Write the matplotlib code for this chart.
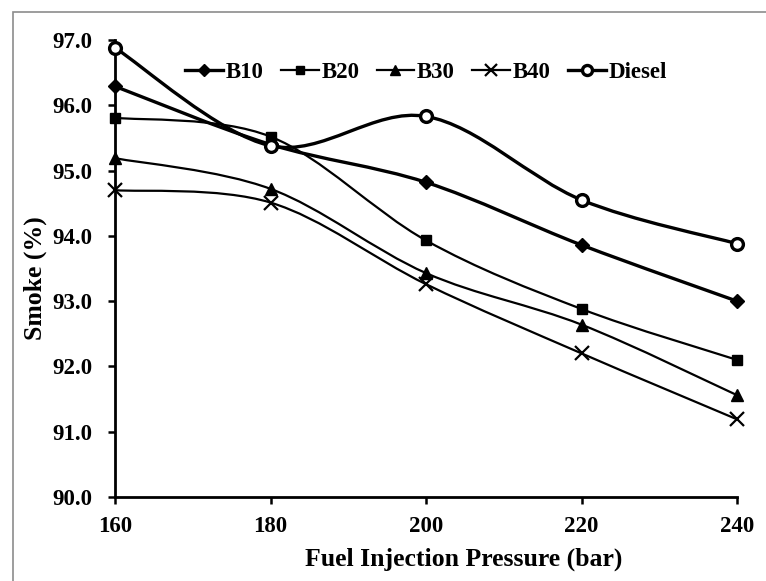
import matplotlib
matplotlib.use("Agg")
import matplotlib.pyplot as plt
from matplotlib.path import Path
from matplotlib.patches import PathPatch, Rectangle
from matplotlib.lines import Line2D

plt.rcParams["font.family"] = ["Liberation Serif", "DejaVu Serif"]
plt.rcParams["font.weight"] = "bold"

pressure = [160, 180, 200, 220, 240]
b10 = [96.29, 95.40, 94.82, 93.86, 93.00]
b20 = [95.81, 95.52, 93.93, 92.88, 92.10]
b30 = [95.19, 94.72, 93.43, 92.64, 91.56]
b40 = [94.70, 94.51, 93.26, 92.20, 91.19]
diesel = [96.88, 95.38, 95.83, 94.55, 93.88]

series = [
    ("B10", b10, "D", 2.4, 7.0),
    ("B20", b20, "s", 1.6, 7.5),
    ("B30", b30, "^", 1.6, 8.5),
    ("B40", b40, "x", 1.6, 9.5),
    ("Diesel", diesel, "o", 2.4, 8.5),
]


def smooth_path(xs, ys):
    # cubic bezier through the points, same style as a spreadsheet "smoothed line"
    pts = list(zip(xs, ys))
    n = len(pts)
    verts = [pts[0]]
    codes = [Path.MOVETO]
    for i in range(n - 1):
        p0 = pts[i - 1] if i > 0 else pts[i]
        p1 = pts[i]
        p2 = pts[i + 1]
        p3 = pts[i + 2] if i + 2 < n else pts[i + 1]
        c1 = (p1[0] + (p2[0] - p0[0]) / 6, p1[1] + (p2[1] - p0[1]) / 6)
        c2 = (p2[0] - (p3[0] - p1[0]) / 6, p2[1] - (p3[1] - p1[1]) / 6)
        verts += [c1, c2, p2]
        codes += [Path.CURVE4] * 3
    return Path(verts, codes)


fig = plt.figure(figsize=(7.66, 5.81), dpi=100)
ax = fig.add_axes([115 / 766, 1 - 497 / 581, 622 / 766, 457 / 581])

handles = []
for name, vals, mk, lw, ms in series:
    ax.add_patch(PathPatch(smooth_path(pressure, vals), facecolor="none",
                           edgecolor="black", lw=lw, zorder=2, clip_on=False))
    if mk == "o":
        kw = dict(markerfacecolor="white", markeredgecolor="black", markeredgewidth=2.4)
    elif mk == "x":
        kw = dict(markeredgecolor="black", markeredgewidth=1.6)
    else:
        kw = dict(markerfacecolor="black", markeredgecolor="black")
    ax.plot(pressure, vals, linestyle="none", marker=mk, markersize=ms,
            zorder=3, clip_on=False, **kw)
    handles.append(Line2D([], [], color="black", lw=lw, marker=mk,
                          markersize=ms * 0.85, **kw))

ax.set_xlim(160, 240)
ax.set_ylim(90, 97)
ax.set_xticks(pressure)
ax.set_yticks([90, 91, 92, 93, 94, 95, 96, 97])
ax.set_yticklabels([f"{v:.1f}" for v in ax.get_yticks()])

for s in ["top", "right"]:
    ax.spines[s].set_visible(False)
for s in ["left", "bottom"]:
    ax.spines[s].set_linewidth(2.0)
ax.tick_params(direction="out", length=5, width=1.8, labelsize=16.5)
ax.tick_params(axis="x", pad=9)
ax.tick_params(axis="y", pad=11)
for lab in ax.get_xticklabels() + ax.get_yticklabels():
    lab.set_fontweight("bold")

ax.set_xlabel("Fuel Injection Pressure (bar)", fontsize=18.5, fontweight="bold", labelpad=7)
ax.set_ylabel("Smoke (%)", fontsize=18.5, fontweight="bold", labelpad=4)
ax.xaxis.label.set_x(0.56)
ax.yaxis.label.set_y(0.48)

ax.legend(handles, [s[0] for s in series], loc="upper center",
          bbox_to_anchor=(0.5, 0.998), ncol=5, frameon=False,
          prop={"size": 16.5, "weight": "bold"}, handlelength=1.65,
          handletextpad=0.12, columnspacing=0.75)

# outer chart frame
fig.patches.append(Rectangle((13 / 766, -0.2), 1.2, 1.2 - 12 / 581,
                             transform=fig.transFigure, fill=False,
                             edgecolor="#8c8c8c", lw=1.2))

fig.savefig("out.png", dpi=100)
